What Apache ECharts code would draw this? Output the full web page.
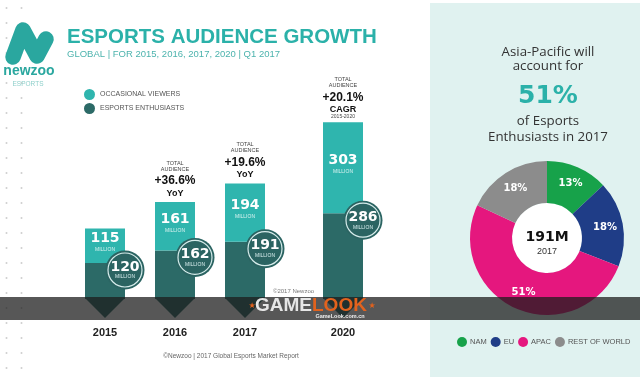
<!DOCTYPE html>
<html>
<head>
<meta charset="utf-8">
<script src="https://cdn.jsdelivr.net/npm/echarts@6/dist/echarts.min.js"></script>
<style>html,body{margin:0;padding:0;background:#fff}#c{width:640px;height:379px}</style>
</head>
<body>
<div id="c"></div>
<script>
// ---- data ----
const years = ['2015', '2016', '2017', '2020'];
const occasionalViewers = [115, 161, 194, 303];
const esportsEnthusiasts = [120, 162, 191, 286];
const growthValue = ['', '+36.6%', '+19.6%', '+20.1%'];
const growthKind = ['', 'YoY', 'YoY', 'CAGR'];
const growthSpan = ['', '', '', '2015-2020'];
const regions = ['NAM', 'EU', 'APAC', 'REST OF WORLD'];
const regionShare = [13, 18, 51, 18];
const seriesNames = ['OCCASIONAL VIEWERS', 'ESPORTS ENTHUSIASTS'];
const groups = [[0, 1, 2], [3]];

// ---- styles ----
const LIGHT = '#2fb5ae';
const DARK = '#2c6a67';
const TEAL = '#2bb1a9';
const regionColors = ['#17a24a', '#1f3d87', '#e5177e', '#8c8c8c'];
const SANS = '"Liberation Sans", Arial, sans-serif';
const WIDE = '"DejaVu Sans", sans-serif';
const BODY = '13.3px "Open Sans", sans-serif';

const chart = echarts.init(document.getElementById('c'), null, {renderer: 'canvas'});

function overlay(params, api) {
  const j = api.value(0), ent = api.value(1), occ = api.value(2), g = api.value(3);
  const base = api.coord([j, 0]);
  const eTop = api.coord([j, ent]);
  const top = api.coord([j, ent + occ]);
  const x = base[0], hw = 20;
  const cx = x + hw, cy = eTop[1] + 7;
  const kids = [
    {type: 'polygon', shape: {points: [[x - hw, base[1] - 1], [x + hw, base[1] - 1], [x, base[1] + 19]]}, style: {fill: DARK}},
    {type: 'circle', shape: {cx: cx, cy: cy, r: 19.5}, style: {fill: '#2b6462'}},
    {type: 'circle', shape: {cx: cx, cy: cy, r: 17}, style: {fill: 'none', stroke: '#d6eceb', lineWidth: 1.2}},
    {type: 'text', style: {x: cx, y: cy - 3, text: String(ent), fill: '#fff', font: 'bold 14px ' + WIDE, align: 'center', verticalAlign: 'middle'}},
    {type: 'text', style: {x: cx, y: cy + 7, text: 'MILLION', fill: '#d8eeee', font: '5px ' + SANS, align: 'center', verticalAlign: 'middle'}}
  ];
  if (growthValue[g]) {
    const t = top[1];
    const hasSpan = !!growthSpan[g];
    const o = hasSpan ? 4 : 0;
    if (hasSpan) kids.push({type: 'text', style: {x: x, y: t - 6, text: growthSpan[g], fill: '#444', font: '5px ' + SANS, align: 'center', verticalAlign: 'middle'}});
    kids.push({type: 'text', style: {x: x, y: t - 9 - o, text: growthKind[g], fill: '#111', font: 'bold 9px ' + SANS, align: 'center', verticalAlign: 'middle'}});
    kids.push({type: 'text', style: {x: x, y: t - 21 - o, text: growthValue[g], fill: '#111', font: 'bold 12px ' + SANS, align: 'center', verticalAlign: 'middle'}});
    kids.push({type: 'text', style: {x: x, y: t - 33 - o, text: 'AUDIENCE', fill: '#444', font: '5.5px ' + SANS, align: 'center', verticalAlign: 'middle'}});
    kids.push({type: 'text', style: {x: x, y: t - 39 - o, text: 'TOTAL', fill: '#444', font: '5.5px ' + SANS, align: 'center', verticalAlign: 'middle'}});
  }
  return {type: 'group', children: kids};
}

const series = [];
groups.forEach((g, k) => {
  series.push({
    name: seriesNames[1], type: 'bar', stack: 's' + k, xAxisIndex: k, yAxisIndex: k, barWidth: 40,
    itemStyle: {color: DARK}, silent: true,
    data: g.map(i => esportsEnthusiasts[i])
  });
  series.push({
    name: seriesNames[0], type: 'bar', stack: 's' + k, xAxisIndex: k, yAxisIndex: k, barWidth: 40,
    itemStyle: {color: LIGHT}, silent: true,
    label: {
      show: true, position: 'inside', offset: [0, -3],
      formatter: '{v|{c}}\n{m|MILLION}',
      rich: {
        v: {fontFamily: WIDE, fontWeight: 'bold', fontSize: 14, color: '#fff', lineHeight: 14},
        m: {fontFamily: SANS, fontSize: 5, color: '#d9f3f1', lineHeight: 8}
      }
    },
    data: g.map(i => occasionalViewers[i])
  });
  series.push({
    type: 'custom', xAxisIndex: k, yAxisIndex: k, z: 5, silent: true, clip: false,
    renderItem: overlay,
    encode: {x: 0, y: 1},
    data: g.map((i, j) => [j, esportsEnthusiasts[i], occasionalViewers[i], i])
  });
});

series.push({
  type: 'pie', center: [547, 238], radius: [35, 77], startAngle: 90, silent: true,
  label: {show: true, position: 'inside', formatter: '{c}%', color: '#fff', fontFamily: WIDE, fontWeight: 'bold', fontSize: 10},
  labelLine: {show: false}, emphasis: {disabled: true},
  data: regions.map((r, i) => ({name: r, value: regionShare[i], itemStyle: {color: regionColors[i]}}))
});

// decorative dots on the left edge
const dots = [];
for (let y = 8; y < 375; y += 15) {
  dots.push({type: 'circle', shape: {cx: 6.5, cy: y, r: 1}, style: {fill: '#cfcfcf'}, z: 0});
  dots.push({type: 'circle', shape: {cx: 21.5, cy: y, r: 1}, style: {fill: '#cfcfcf'}, z: 0});
}

const graphic = dots.concat([
  // right panel
  {type: 'rect', shape: {x: 430, y: 3, width: 210, height: 374}, style: {fill: '#e0f2f0'}, z: 0},
  {type: 'circle', shape: {cx: 547, cy: 238, r: 35}, style: {fill: '#fff'}, z: 1},
  {type: 'text', style: {x: 548, y: 52, text: 'Asia-Pacific will', fill: '#333', font: BODY, align: 'center', verticalAlign: 'middle'}},
  {type: 'text', style: {x: 548, y: 66, text: 'account for', fill: '#333', font: BODY, align: 'center', verticalAlign: 'middle'}},
  {type: 'text', style: {x: 548, y: 96, text: regionShare[2] + '%', fill: TEAL, font: 'bold 25px ' + WIDE, align: 'center', verticalAlign: 'middle'}},
  {type: 'text', style: {x: 548, y: 121, text: 'of Esports', fill: '#333', font: BODY, align: 'center', verticalAlign: 'middle'}},
  {type: 'text', style: {x: 548, y: 137, text: 'Enthusiasts in 2017', fill: '#333', font: BODY, align: 'center', verticalAlign: 'middle'}},
  {type: 'text', style: {x: 547, y: 237, text: esportsEnthusiasts[2] + 'M', fill: '#111', font: 'bold 14px ' + WIDE, align: 'center', verticalAlign: 'middle'}, z: 2},
  {type: 'text', style: {x: 547, y: 252, text: years[2], fill: '#333', font: '9px ' + SANS, align: 'center', verticalAlign: 'middle'}, z: 2},
  // logo
  {type: 'polyline', shape: {points: [[13, 57], [23, 30], [37, 56], [46, 39]]}, style: {stroke: '#2aa79f', lineWidth: 15.5, lineCap: 'round', lineJoin: 'round', fill: 'none'}, z: 1},
  {type: 'text', style: {x: 29, y: 71, text: 'newzoo', fill: '#2aa79f', font: 'bold 14px ' + SANS, align: 'center', verticalAlign: 'middle'}, z: 1},
  {type: 'text', style: {x: 28, y: 84, text: 'ESPORTS', fill: '#8fd0cb', font: '6.5px ' + SANS, align: 'center', verticalAlign: 'middle'}, z: 1},
  // title
  {type: 'text', style: {x: 67, y: 37, text: 'ESPORTS AUDIENCE GROWTH', fill: TEAL, font: 'bold 20.5px ' + SANS, verticalAlign: 'middle'}},
  {type: 'text', style: {x: 67, y: 54, text: 'GLOBAL | FOR 2015, 2016, 2017, 2020 | Q1 2017', fill: '#4cb3ad', font: '9.5px ' + SANS, verticalAlign: 'middle'}},
  // notes
  {type: 'text', style: {x: 273, y: 291, text: '©2017 Newzoo', fill: '#777', font: '6px ' + SANS, verticalAlign: 'middle'}},
  {type: 'text', style: {x: 231, y: 356, text: '©Newzoo | 2017 Global Esports Market Report', fill: '#666', font: '6.5px ' + SANS, align: 'center', verticalAlign: 'middle'}},
  // watermark band
  {type: 'rect', shape: {x: 0, y: 297, width: 640, height: 23}, style: {fill: 'rgba(28,28,28,0.74)'}, z: 100},
  {type: 'text', style: {x: 252, y: 306, text: '★', fill: '#e2621d', font: '8px ' + WIDE, align: 'center', verticalAlign: 'middle'}, z: 101},
  {type: 'text', style: {x: 372, y: 306, text: '★', fill: '#e2621d', font: '8px ' + WIDE, align: 'center', verticalAlign: 'middle'}, z: 101},
  {type: 'text', style: {x: 312, y: 306, text: 'GAME', fill: '#e6e6e6', font: 'bold 19px ' + SANS, align: 'right', verticalAlign: 'middle'}, z: 101},
  {type: 'text', style: {x: 312, y: 306, text: 'LOOK', fill: '#e2621d', font: 'bold 19px ' + SANS, align: 'left', verticalAlign: 'middle'}, z: 101},
  {type: 'text', style: {x: 340, y: 316, text: 'GameLook.com.cn', fill: '#eeeeee', font: 'bold 5.5px ' + SANS, align: 'center', verticalAlign: 'middle'}, z: 102}
]);

chart.setOption({
  animation: false,
  backgroundColor: '#fff',
  grid: [
    {left: 70, width: 210, top: 119, height: 180},
    {left: 308, width: 70, top: 119, height: 180}
  ],
  xAxis: groups.map((g, k) => ({
    type: 'category', gridIndex: k, data: g.map(i => years[i]),
    axisLine: {show: false}, axisTick: {show: false}, splitLine: {show: false},
    axisLabel: {margin: 28, fontSize: 11, fontWeight: 'bold', color: '#222', fontFamily: SANS}
  })),
  yAxis: groups.map((g, k) => ({type: 'value', gridIndex: k, min: 0, max: 600, show: false})),
  legend: [
    {
      data: seriesNames, orient: 'vertical', left: 79, top: 84, itemWidth: 11, itemHeight: 11, itemGap: 3,
      icon: 'circle', selectedMode: false, textStyle: {fontSize: 7, color: '#555', fontFamily: SANS}
    },
    {
      data: regions, orient: 'horizontal', left: 452, top: 332, itemWidth: 10, itemHeight: 10, itemGap: 4,
      icon: 'circle', selectedMode: false, textStyle: {fontSize: 7.5, color: '#555', fontFamily: SANS, padding: [0, 0, 0, -2]}
    }
  ],
  graphic: graphic,
  series: series
});
</script>
</body>
</html>
